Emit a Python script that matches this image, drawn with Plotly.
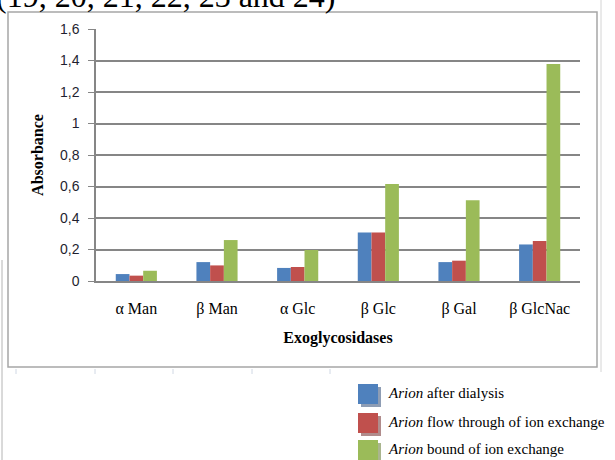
import plotly.graph_objects as go

categories = ["α Man", "β Man", "α Glc", "β Glc", "β Gal", "β GlcNac"]
after_dialysis = [0.044, 0.12, 0.083, 0.308, 0.12, 0.232]
flow_through = [0.034, 0.099, 0.089, 0.308, 0.129, 0.254]
bound = [0.065, 0.26, 0.197, 0.616, 0.513, 1.377]
series_names = ["<i>Arion</i> after dialysis",
                "<i>Arion</i> flow through of ion exchange",
                "<i>Arion</i> bound of ion exchange"]
colors = ["#4F81BD", "#C0504D", "#9BBB59"]
shadow_colors = ["#8E9DB4", "#B08C8C", "#A9B58E"]
ytick_vals = [0, 0.2, 0.4, 0.6, 0.8, 1.0, 1.2, 1.4, 1.6]
ytick_text = ["0", "0,2", "0,4", "0,6", "0,8", "1", "1,2", "1,4", "1,6"]

W, H = 615, 460
L, R, T, B = 96, 580, 29, 281


def px(x):
    return (x - L) / (R - L)


def py(y):
    return (B - y) / (B - T)


fig = go.Figure()
for vals, name, col in zip([after_dialysis, flow_through, bound], series_names, colors):
    fig.add_trace(go.Bar(x=categories, y=vals, name=name, marker_color=col,
                         marker_line_width=0, showlegend=False))

shapes = []
# chart border
shapes.append(dict(type="rect", xref="paper", yref="paper",
                   x0=px(8), x1=px(597), y0=py(367), y1=py(12),
                   line=dict(color="#A6A6A6", width=1.5), layer="below"))
# page lines
shapes.append(dict(type="line", xref="paper", yref="paper",
                   x0=px(601), x1=px(601), y0=py(0), y1=py(372),
                   line=dict(color="#D4D4D4", width=1)))
shapes.append(dict(type="line", xref="paper", yref="paper",
                   x0=px(2), x1=px(2), y0=py(260), y1=py(460),
                   line=dict(color="#B4B4B4", width=1)))
for xt in [16, 95, 173, 252, 330]:
    shapes.append(dict(type="line", xref="paper", yref="paper",
                       x0=px(xt), x1=px(xt), y0=py(369), y1=py(374),
                       line=dict(color="#D0D8E4", width=1)))

annotations = []
row_y = [394, 423, 450]
for i, (name, col, sc) in enumerate(zip(series_names, colors, shadow_colors)):
    cy = row_y[i]
    shapes.append(dict(type="rect", xref="paper", yref="paper",
                       x0=px(361), x1=px(381), y0=py(cy - 7), y1=py(cy + 13),
                       fillcolor=sc, line_width=0))
    shapes.append(dict(type="rect", xref="paper", yref="paper",
                       x0=px(358), x1=px(378), y0=py(cy - 10), y1=py(cy + 10),
                       fillcolor=col, line_width=0))
    annotations.append(dict(text=name, xref="paper", yref="paper",
                            x=px(386), y=py(cy - 1), xanchor="left", yanchor="middle",
                            showarrow=False,
                            font=dict(family="Liberation Serif", size=15, color="#000000")))

annotations.append(dict(text="(19, 20, 21, 22, 23 and 24)", xref="paper", yref="paper",
                        x=px(338), y=py(16), xanchor="right", yanchor="bottom",
                        showarrow=False,
                        font=dict(family="Liberation Serif", size=32, color="#000000")))

fig.update_layout(
    width=W, height=H,
    margin=dict(l=L, r=W - R, t=T, b=H - B),
    paper_bgcolor="white", plot_bgcolor="white",
    barmode="group", bargap=0.49, bargroupgap=0,
    shapes=shapes, annotations=annotations,
    showlegend=False,
    xaxis=dict(showline=True, linecolor="#868686", linewidth=1.5, ticks="",
               ticklabelstandoff=12,
               tickfont=dict(family="Liberation Serif", size=16, color="#000000"),
               title=dict(text="<b>Exoglycosidases</b>", standoff=15,
                          font=dict(family="Liberation Serif", size=16, color="#000000")),
               fixedrange=True),
    yaxis=dict(range=[0, 1.6], tickvals=ytick_vals, ticktext=ytick_text,
               showgrid=True, gridcolor="#868686", gridwidth=1.5,
               showline=True, linecolor="#868686", linewidth=1.5,
               ticks="outside", ticklen=6, tickcolor="#868686",
               ticklabelstandoff=6,
               tickfont=dict(family="Liberation Sans", size=14, color="#1F1F2F"),
               zeroline=False,
               title=dict(text="<b>Absorbance</b>", standoff=12,
                          font=dict(family="Liberation Serif", size=16, color="#000000"))),
)

fig.write_html("out.html", config={"displayModeBar": False},
               post_script="document.body.style.margin='0';document.body.style.overflow='hidden';")
